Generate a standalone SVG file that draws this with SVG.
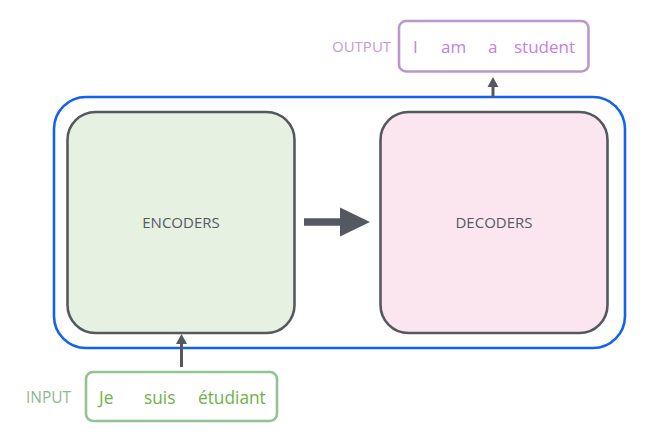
<svg xmlns="http://www.w3.org/2000/svg" width="648" height="436" viewBox="0 0 648 436">
<style>
.box{stroke:#55595f;stroke-width:2.6}
.lbl{font-family:"Open Sans","Liberation Sans",sans-serif;font-size:15px;fill:#55595f;text-anchor:middle}
.out{font-family:"Open Sans","Liberation Sans",sans-serif;font-size:17px;fill:#c57fe2}
.outl{font-family:"Open Sans","Liberation Sans",sans-serif;font-size:15px;fill:#c39ad3}
.in{font-family:"Open Sans","Liberation Sans",sans-serif;font-size:17.3px;fill:#6cb248}
.inl{font-family:"Open Sans","Liberation Sans",sans-serif;font-size:15.5px;fill:#8fba8f}
.conn{stroke:#55595f;stroke-width:3;fill:none}
</style>
<g id="container">
<rect x="54" y="97" width="571" height="251" rx="32" fill="none" stroke="#1262f0" stroke-width="2.6"/>
</g>
<g id="encoders">
<rect class="box" x="67.5" y="112" width="227" height="221" rx="28" fill="#e6f1e1"/>
<text class="lbl" x="181" y="228">ENCODERS</text>
</g>
<g id="decoders">
<rect class="box" x="380.5" y="112" width="227" height="221" rx="28" fill="#fbe6f0"/>
<text class="lbl" x="494" y="228">DECODERS</text>
</g>
<g id="output">
<rect x="399" y="21" width="189.5" height="50.5" rx="7" fill="#fff" stroke="#bb98cb" stroke-width="2.6"/>
<text class="outl" x="332" y="52">OUTPUT</text>
<text class="out" x="413" y="52.5">I</text>
<text class="out" x="441" y="52.5">am</text>
<text class="out" x="488" y="52.5">a</text>
<text class="out" x="514" y="52.5">student</text>
</g>
<g id="input">
<rect x="86" y="372" width="191" height="49" rx="7" fill="#fff" stroke="#93c293" stroke-width="2.6"/>
<text class="inl" x="26" y="403">INPUT</text>
<text class="in" x="99" y="404">Je</text>
<text class="in" x="144" y="404">suis</text>
<text class="in" x="198" y="404">étudiant</text>
</g>
<g id="connectors">
<path d="M304,222 H342" stroke="#55595f" stroke-width="7.5" fill="none"/>
<path d="M340,207.5 L370,222 L340,236.5 Z" fill="#55595f"/>
<path class="conn" d="M181.5,367 V343"/>
<path d="M176,344 L181.5,334 L187,344 Z" fill="#55595f"/>
<path class="conn" d="M493,97 V86"/>
<path d="M487.5,87 L493,77 L498.5,87 Z" fill="#55595f"/>
</g>
</svg>
